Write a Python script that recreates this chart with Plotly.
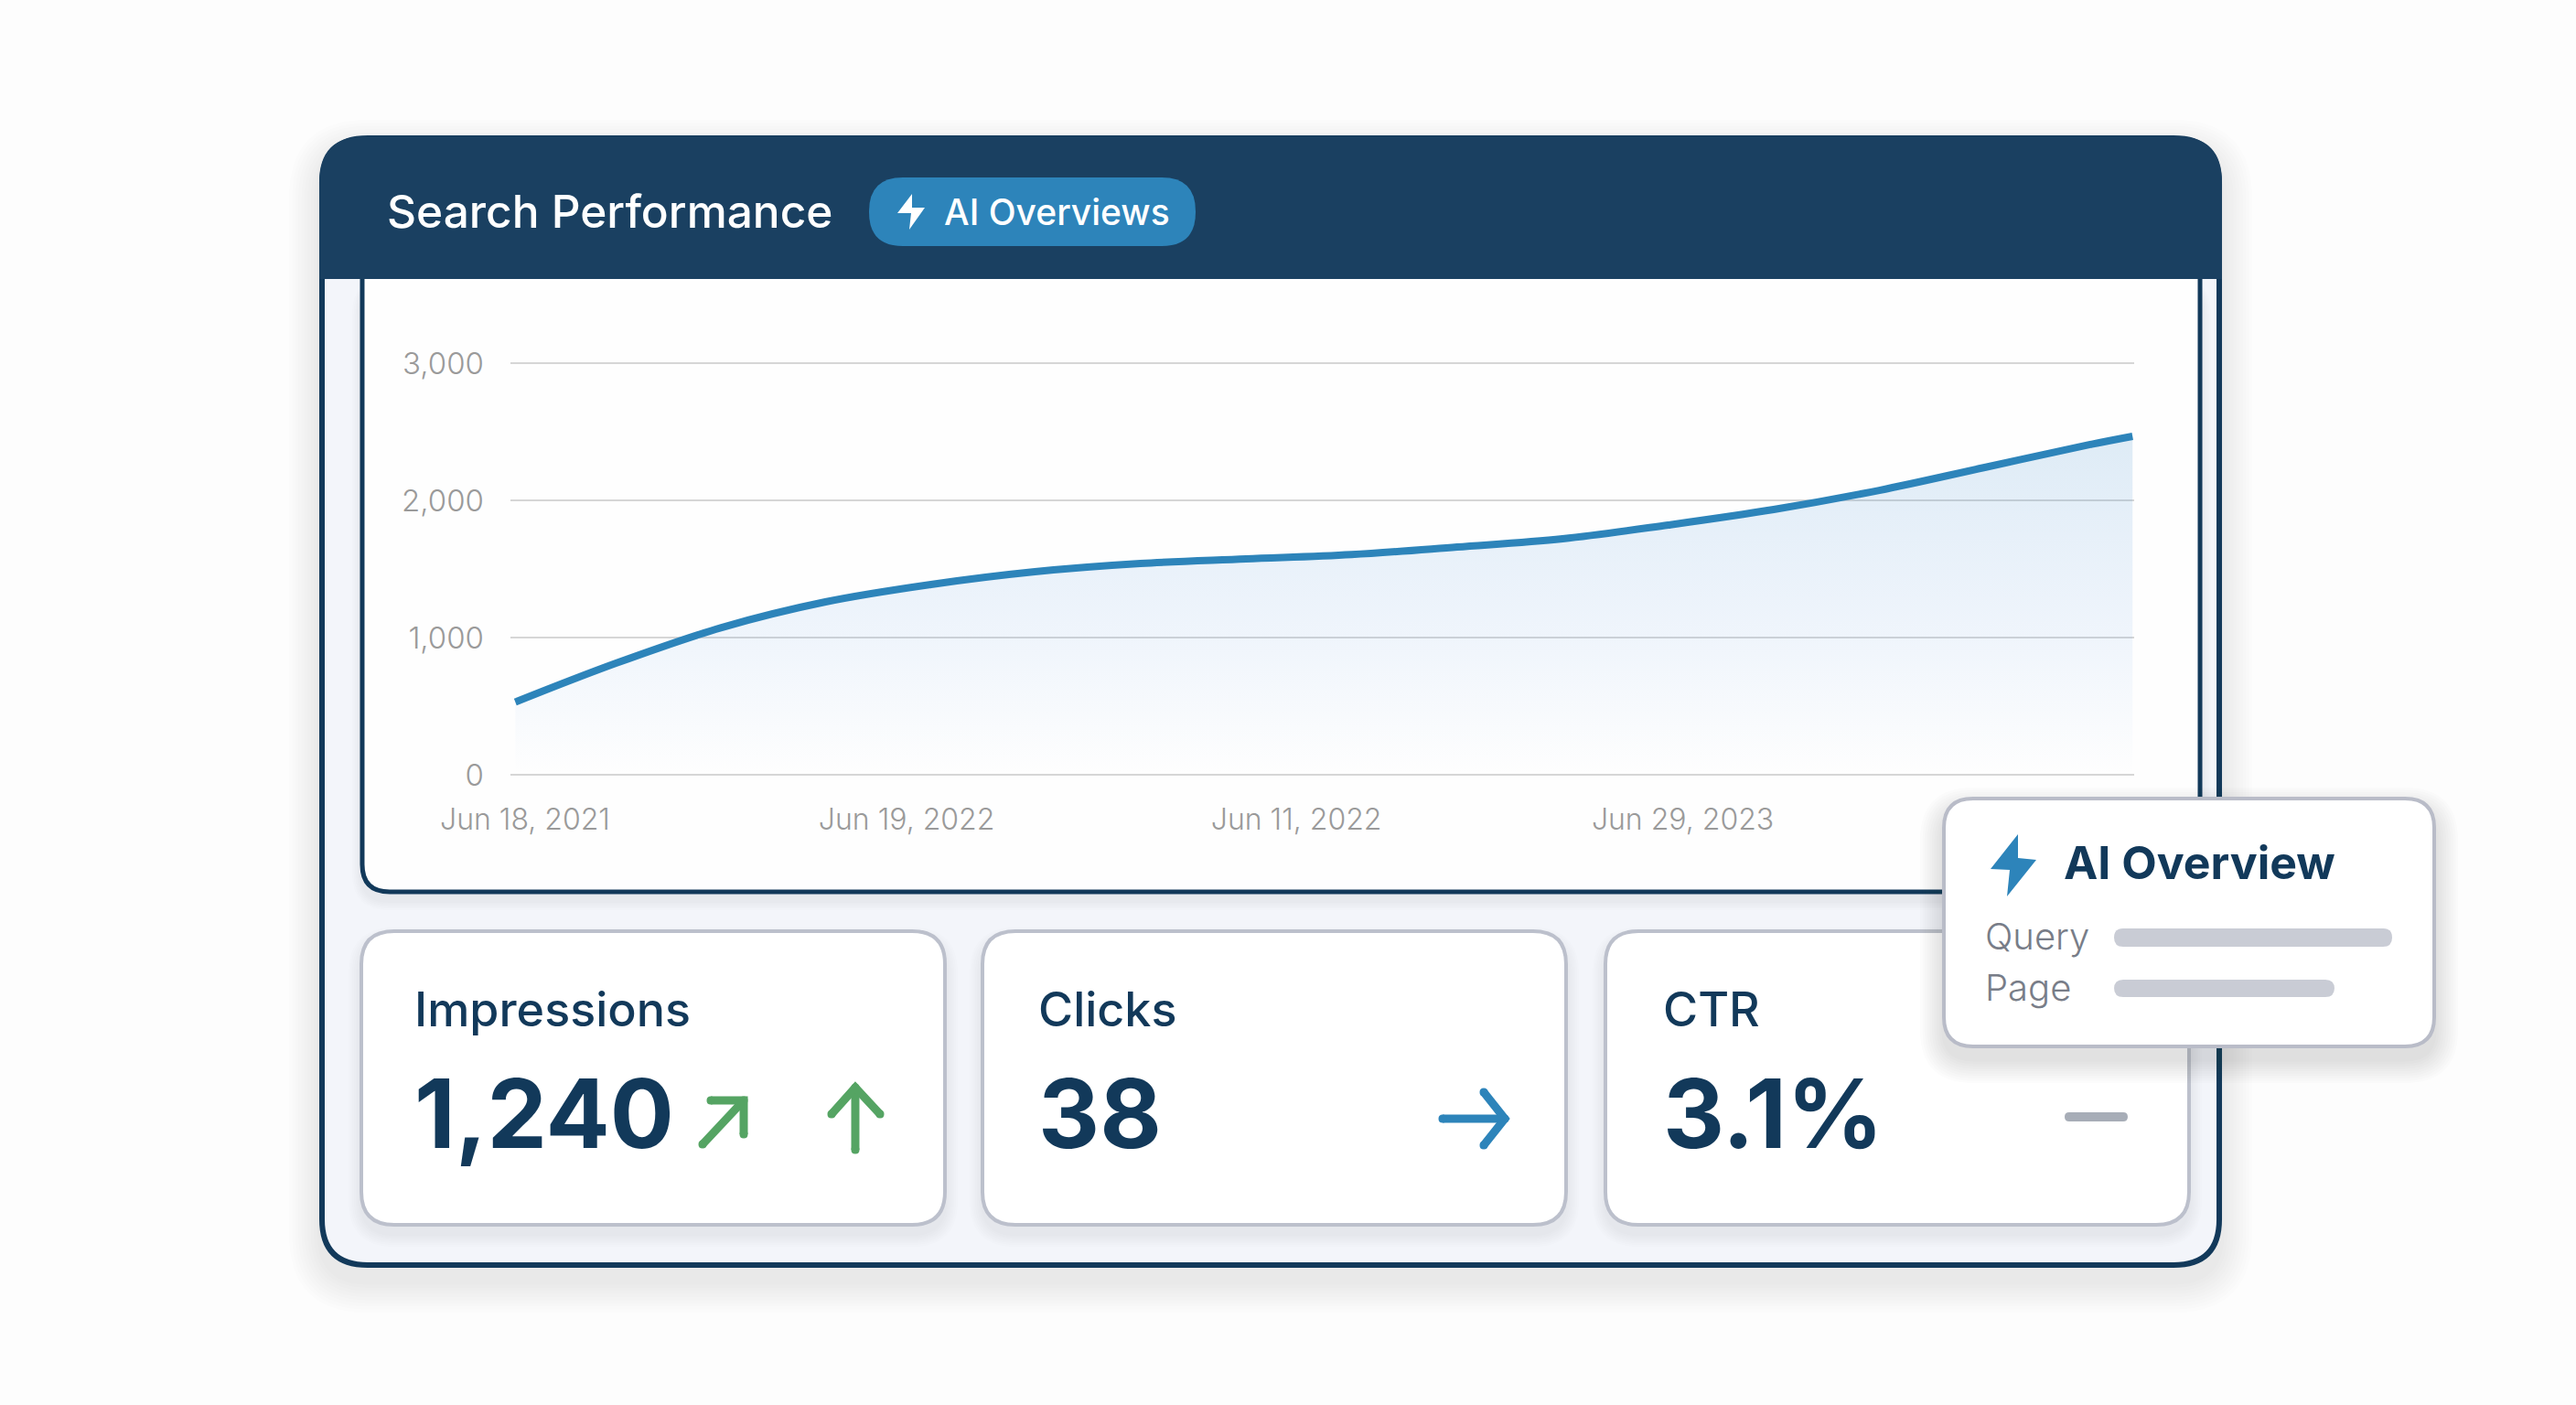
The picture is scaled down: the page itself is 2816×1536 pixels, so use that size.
import plotly.graph_objects as go

W, H = 2816, 1536
FONT = "Inter"
NAVY = "#12395a"
HEADER = "#1a4061"
BLUE = "#2d84ba"
GREEN = "#55a463"
EDGE = "#bcc0cc"

# chart values, x is position along the time axis in percent
time_pos = [0.3, 6.5, 13.0, 19.4, 25.9, 32.3, 38.8, 45.3, 51.8, 58.3, 64.8, 71.3, 77.8, 84.3, 90.8, 97.3, 99.9]
impressions = [530, 813, 1073, 1260, 1387, 1480, 1540, 1573, 1605, 1660, 1720, 1820, 1933, 2073, 2240, 2407, 2467]
y_ticks = [0, 1000, 2000, 3000]
x_tick_pos = [0.9, 24.4, 48.4, 72.2]
x_tick_labels = ["Jun 18, 2021", "Jun 19, 2022", "Jun 11, 2022", "Jun 29, 2023"]

stat_names = ["Impressions", "Clicks", "CTR"]
stat_values = ["1,240", "38", "3.1%"]
stat_text_x = [451, 1133, 1816]
stat_card_x = [(395, 1033), (1074, 1712), (1755, 2393)]


def fx(x):
    return x / W


def fy(y):
    return 1 - y / H


def pt(x, y):
    return f"{fx(x):.5f},{fy(y):.5f}"


def round_rect(x0, y0, x1, y1, r, square_bottom=False, square_top=False):
    # rounded rectangle as svg path in paper coords
    rt = 0 if square_top else r
    rb = 0 if square_bottom else r
    return (
        f"M{pt(x0 + rt, y0)} L{pt(x1 - rt, y0)} Q{pt(x1, y0)} {pt(x1, y0 + rt)} "
        f"L{pt(x1, y1 - rb)} Q{pt(x1, y1)} {pt(x1 - rb, y1)} "
        f"L{pt(x0 + rb, y1)} Q{pt(x0, y1)} {pt(x0, y1 - rb)} "
        f"L{pt(x0, y0 + rt)} Q{pt(x0, y0)} {pt(x0 + rt, y0)} Z"
    )


shapes = []


def add_path(path, fill=None, line=None, width=0):
    shapes.append(dict(
        type="path", xref="paper", yref="paper", path=path, layer="below",
        fillcolor=fill if fill else "rgba(0,0,0,0)",
        line=dict(color=line if line else "rgba(0,0,0,0)", width=width),
    ))


def add_shadow(x0, y0, x1, y1, r, spread, dy, alpha, steps=10):
    # no blur in shapes, so stack faint rects
    for i in range(steps, 0, -1):
        s = spread * i / steps
        add_path(round_rect(x0 - s, y0 - s + dy, x1 + s, y1 + s + dy, r + s),
                 fill=f"rgba(60,70,95,{alpha})")


def add_stroke(points, color, width):
    d = "M" + " L".join(pt(x, y) for x, y in points)
    add_path(d, line=color, width=width)
    # round caps
    for x, y in (points[0], points[-1]):
        add_path(round_rect(x - width / 2, y - width / 2, x + width / 2, y + width / 2, width / 2), fill=color)


def add_bolt(points, color):
    add_path("M" + " L".join(pt(x, y) for x, y in points) + " Z", fill=color)


# outer card
add_shadow(350, 149, 2428, 1385, 52, 34, 16, 0.013)
add_path(round_rect(352, 151, 2426, 1383, 50), fill="#f3f5fa", line=NAVY, width=6)
add_shadow(395, 305, 2407, 977, 30, 10, 8, 0.012, steps=6)
add_path(round_rect(396, 300, 2405, 975, 30, square_top=True), fill="#fefefe", line=NAVY, width=5)
add_path(round_rect(349, 149, 2429, 305, 50, square_bottom=True), fill=HEADER)
add_path(round_rect(950, 194, 1307, 269, 37), fill=BLUE)
add_bolt([(997, 212), (981, 233), (996, 233), (994, 251), (1011, 227), (997, 227)], "#ffffff")

# stat cards
for x0, x1 in stat_card_x:
    add_shadow(x0, 1018, x1, 1339, 36, 14, 10, 0.012, steps=7)
    add_path(round_rect(x0, 1018, x1, 1339, 36), fill="#ffffff", line=EDGE, width=4)

# trend marks
add_stroke([(768, 1251), (813, 1203)], GREEN, 9)
add_stroke([(777, 1203), (813, 1203), (813, 1240)], GREEN, 9)
add_stroke([(935, 1257), (935, 1189)], GREEN, 9)
add_stroke([(909, 1218), (935, 1189), (962, 1218)], GREEN, 9)
add_stroke([(1577, 1223), (1645, 1223)], BLUE, 9)
add_stroke([(1622, 1194), (1645, 1223), (1622, 1252)], BLUE, 9)
add_path(round_rect(2257, 1216, 2326, 1226, 5), fill="#a7adb7")

# AI Overview popup
add_shadow(2125, 873, 2661, 1144, 32, 26, 14, 0.014)
add_path(round_rect(2125, 873, 2661, 1144, 32), fill="#ffffff", line="#b9bcc8", width=4)
add_bolt([(2206, 912), (2176, 950), (2197, 951), (2194, 980), (2226, 940), (2206, 938)], BLUE)
add_path(round_rect(2311, 1015, 2615, 1035, 10), fill="#c9ccd5")
add_path(round_rect(2311, 1071, 2552, 1090, 10), fill="#c9ccd5")


def label(text, x, y, size, color, weight=400):
    return dict(
        text=text, x=fx(x), y=fy(y), xref="paper", yref="paper", showarrow=False,
        xanchor="left", yanchor="middle",
        font=dict(family=FONT, size=size, color=color, weight=weight),
    )


annotations = [
    label("Search Performance", 421, 231, 49.6, "#ffffff", 500),
    label("AI Overviews", 1030, 231, 39, "#ffffff", 500),
    label("AI Overview", 2254, 943, 50, NAVY, 700),
    label("Query", 2168, 1023, 40, "#787d88", 300),
    label("Page", 2168, 1079, 40, "#787d88", 300),
]
for name, value, x in zip(stat_names, stat_values, stat_text_x):
    annotations.append(label(name, x, 1103, 52, NAVY, 500))
    annotations.append(label(value, x, 1217, 104, NAVY, 700))

fig = go.Figure()
fig.add_trace(go.Scatter(
    x=time_pos, y=impressions, mode="lines", fill="tozeroy",
    line=dict(color=BLUE, width=8, shape="spline", smoothing=1.0),
    fillgradient=dict(
        type="vertical", start=0, stop=2500,
        colorscale=[[0, "rgba(70,140,225,0)"], [0.4, "rgba(70,140,225,0.08)"],
                    [1, "rgba(50,135,200,0.16)"]],
    ),
    hoverinfo="skip", showlegend=False,
))

fig.update_layout(
    width=W, height=H, margin=dict(l=0, r=0, t=0, b=0),
    paper_bgcolor="#fdfdfd", plot_bgcolor="rgba(0,0,0,0)",
    shapes=shapes, annotations=annotations,
    xaxis=dict(
        domain=[fx(558), fx(2333)], range=[0, 100], showgrid=False, zeroline=False,
        showline=False, ticks="", tickvals=x_tick_pos, ticktext=x_tick_labels,
        tickfont=dict(family=FONT, size=32, color="#9a9a9a", weight=300),
        ticklabelstandoff=19, anchor="y", automargin=False,
    ),
    yaxis=dict(
        # range runs a bit past 0 and 3,000 so both end gridlines get drawn
        domain=[fy(854.5), fy(389.5)], range=[-50, 3050], tickvals=y_ticks, tickformat=",",
        gridcolor="#d6d6d6", gridwidth=2, zeroline=False, showline=False, ticks="",
        tickfont=dict(family=FONT, size=33, color="#9a9a9a", weight=300),
        ticklabelstandoff=28, anchor="x", automargin=False,
    ),
)

fig.write_html("out.html", config=dict(displayModeBar=False),
               post_script="document.body.style.margin='0';")
